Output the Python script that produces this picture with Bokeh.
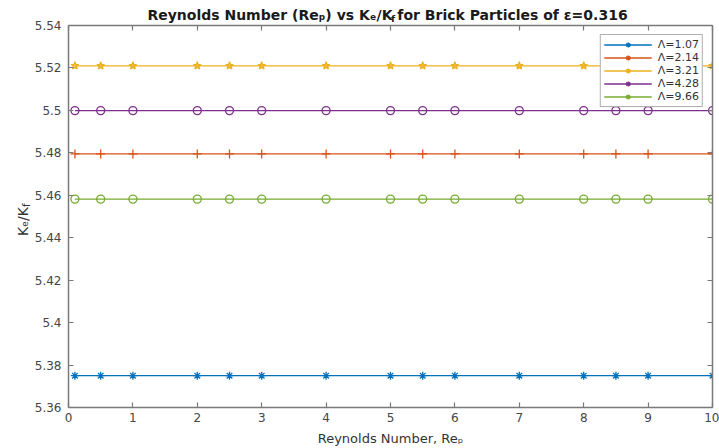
import math
from bokeh.plotting import figure
from bokeh.models import (ColumnDataSource, FixedTicker, LinearAxis, Range1d,
                          Legend, LegendItem, Label)
from bokeh.embed import file_html
from bokeh.resources import INLINE

# ---------------- data ----------------
reynolds = [0.1, 0.5, 1, 2, 2.5, 3, 4, 5, 5.5, 6, 7, 8, 8.5, 9, 10]
ke_kf_1_07 = [5.375, 5.375, 5.375, 5.375, 5.375, 5.375, 5.375, 5.375,
              5.375, 5.375, 5.375, 5.375, 5.375, 5.375, 5.375]
ke_kf_2_14 = [5.4795, 5.4795, 5.4795, 5.4795, 5.4795, 5.4795, 5.4795, 5.4795,
              5.4795, 5.4795, 5.4795, 5.4795, 5.4795, 5.4795, 5.4795]
ke_kf_3_21 = [5.521, 5.521, 5.521, 5.521, 5.521, 5.521, 5.521, 5.521,
              5.521, 5.521, 5.521, 5.521, 5.521, 5.521, 5.521]
ke_kf_4_28 = [5.4999, 5.4999, 5.4999, 5.4999, 5.4999, 5.4999, 5.4999, 5.4999,
              5.4999, 5.4999, 5.4999, 5.4999, 5.4999, 5.4999, 5.4999]
ke_kf_9_66 = [5.4582, 5.4582, 5.4582, 5.4582, 5.4582, 5.4582, 5.4582, 5.4582,
              5.4582, 5.4582, 5.4582, 5.4582, 5.4582, 5.4582, 5.4582]

series_names = ["Λ=1.07", "Λ=2.14", "Λ=3.21", "Λ=4.28", "Λ=9.66"]
series_values = [ke_kf_1_07, ke_kf_2_14, ke_kf_3_21, ke_kf_4_28, ke_kf_9_66]

x_ticks = [0, 1, 2, 3, 4, 5, 6, 7, 8, 9, 10]
y_ticks = [5.36, 5.38, 5.40, 5.42, 5.44, 5.46, 5.48, 5.50, 5.52, 5.54]
y_tick_labels = ["5.36", "5.38", "5.4", "5.42", "5.44", "5.46", "5.48", "5.5", "5.52", "5.54"]

# the gap of one space after "K" receives the subscript "f"
title_text = "Reynolds Number (Reₚ) vs Kₑ/K  for Brick Particles of ε=0.316"
title_sub = "f"
xlabel_text = "Reynolds Number, Reₚ"
ylabel_main = "Kₑ/K"
ylabel_sub = "f"

# ---------------- styles ----------------
colors = ["#0072BD", "#D95319", "#EDB120", "#7E2F8E", "#77AC30"]
markers = ["asterisk", "cross", "star", "circle", "circle"]
marker_sizes = [8, 9, 8, 8, 8]
marker_fills = [None, None, "#EDB120", None, None]
FONT = "DejaVu Sans"
AXIS_COLOR = "#7a7a7a"
TICK_LABEL_COLOR = "#454545"

X_RANGE = (0, 10)
Y_RANGE = (5.36, 5.54)

p = figure(width=719, height=448, output_backend="svg", toolbar_location=None,
           x_range=Range1d(*X_RANGE), y_range=Range1d(*Y_RANGE),
           min_border_left=68, min_border_right=7, min_border_top=25,
           min_border_bottom=36)
p.background_fill_color = "white"
p.border_fill_color = "white"
p.outline_line_color = None
p.xgrid.visible = False
p.ygrid.visible = False


def style_axis(ax, show_labels):
    ax.axis_line_color = AXIS_COLOR
    ax.axis_line_width = 1.5
    ax.major_tick_line_color = AXIS_COLOR
    ax.major_tick_line_width = 1.2
    ax.major_tick_in = 5
    ax.major_tick_out = 0
    ax.minor_tick_line_color = None
    ax.major_label_text_font = FONT
    if show_labels:
        ax.major_label_text_font_size = "12px"
        ax.major_label_text_color = TICK_LABEL_COLOR
    else:
        ax.major_label_text_font_size = "1px"
        ax.major_label_text_color = None
        ax.major_label_text_alpha = 0
        ax.major_label_standoff = 0


p.xaxis.ticker = FixedTicker(ticks=x_ticks)
p.yaxis.ticker = FixedTicker(ticks=y_ticks)
p.yaxis.major_label_overrides = dict(zip(y_ticks, y_tick_labels))
style_axis(p.xaxis[0], True)
style_axis(p.yaxis[0], True)
p.xaxis.major_label_standoff = 5
p.yaxis.major_label_standoff = 7
p.xaxis.axis_label = xlabel_text
p.xaxis.axis_label_text_font = FONT
p.xaxis.axis_label_text_font_size = "13px"
p.xaxis.axis_label_text_font_style = "normal"
p.xaxis.axis_label_text_color = "#333333"
p.xaxis.axis_label_standoff = 6

top_axis = LinearAxis(ticker=FixedTicker(ticks=x_ticks))
right_axis = LinearAxis(ticker=FixedTicker(ticks=y_ticks))
style_axis(top_axis, False)
style_axis(right_axis, False)
p.add_layout(top_axis, "above")
p.add_layout(right_axis, "right")

# ---------------- data glyphs ----------------
legend_items = []
nan = float("nan")
for name, vals, col, mk, ms, mf in zip(series_names, series_values, colors, markers,
                                       marker_sizes, marker_fills):
    src = ColumnDataSource(data=dict(x=reynolds, y=vals))
    p.line("x", "y", source=src, line_color=col, line_width=1.3)
    p.scatter("x", "y", source=src, marker=mk, size=ms, line_color=col,
              line_width=1.3, fill_color=mf, fill_alpha=0.6)
    # legend sample (MATLAB legend shows line + asterisk for every series)
    dummy = ColumnDataSource(data=dict(x=[nan], y=[nan]))
    lr = p.line("x", "y", source=dummy, line_color=col, line_width=1.3)
    sr = p.scatter("x", "y", source=dummy, marker="asterisk", size=8,
                   line_color=col, line_width=1.3)
    legend_items.append(LegendItem(label=name, renderers=[lr, sr]))

legend = Legend(items=legend_items, location="top_right")
legend.margin = 9
legend.padding = 3
legend.spacing = 0
legend.glyph_width = 48
legend.glyph_height = 13
legend.label_height = 13
legend.label_standoff = 6
legend.label_text_font = FONT
legend.label_text_font_size = "11px"
legend.label_text_color = "#333333"
legend.border_line_color = "#5f5f5f"
legend.border_line_width = 1.5
legend.background_fill_color = "white"
legend.background_fill_alpha = 1.0
p.add_layout(legend)

# ---------------- helpers: canvas px -> data (frame: x 68..712, y 25..412) ----------------
FL, FR, FT, FB = 68, 712, 25, 412


def dx(px):
    return X_RANGE[0] + (px - FL) / (FR - FL) * (X_RANGE[1] - X_RANGE[0])


def dy(py):
    return Y_RANGE[0] + (FB - py) / (FB - FT) * (Y_RANGE[1] - Y_RANGE[0])


# ---------------- title (with subscript f) ----------------
TITLE_SIZE = 14
TX_END, TY = 632, 14
tcol = "#1a1a1a"
p.add_layout(Label(x=dx(TX_END), y=dy(TY), text=title_text,
                   text_align="right", text_baseline="alphabetic", text_font=FONT,
                   text_font_size=f"{TITLE_SIZE}px", text_font_style="bold",
                   text_color=tcol), "above")
# estimated advance of the tail text plus the gap space (DejaVu Sans Bold, em units)
tail_em = 16.87 + 0.348
p.add_layout(Label(x=dx(TX_END), y=dy(TY), x_offset=-tail_em * TITLE_SIZE - 0.5, y_offset=-3.5,
                   text=title_sub, text_align="left", text_baseline="alphabetic",
                   text_font=FONT, text_font_size="9.5px", text_font_style="bold",
                   text_color=tcol), "right")

# ---------------- y label (rotated, with subscript) ----------------
YX, YY = 22, 209
p.add_layout(Label(x=dx(YX), y=dy(YY), text=ylabel_main,
                   angle=math.pi / 2, text_align="right", text_baseline="alphabetic",
                   text_font=FONT, text_font_size="14px", text_color="#333333"), "left")
p.add_layout(Label(x=dx(YX), y=dy(YY), x_offset=3.5, text=ylabel_sub,
                   angle=math.pi / 2, text_align="left", text_baseline="alphabetic",
                   text_font=FONT, text_font_size="10px", text_color="#333333"), "left")

open("out.html", "w").write(file_html(p, INLINE))
